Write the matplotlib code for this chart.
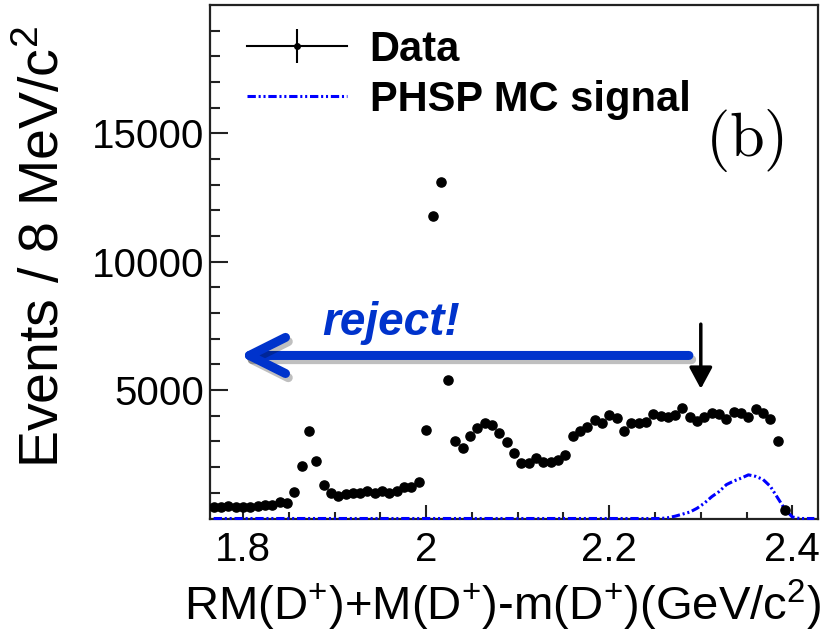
import numpy as np
import matplotlib
matplotlib.use("Agg")
import matplotlib.pyplot as plt
from matplotlib.lines import Line2D
from matplotlib.font_manager import FontProperties
import matplotlib.patheffects as pe

plt.rcParams['font.family'] = ['Liberation Sans', 'DejaVu Sans']
plt.rcParams['mathtext.fontset'] = 'custom'
plt.rcParams['mathtext.rm'] = 'Liberation Sans'
plt.rcParams['mathtext.it'] = 'Liberation Sans:italic'
plt.rcParams['mathtext.bf'] = 'Liberation Sans:bold'
plt.rcParams['lines.scale_dashes'] = False

# ---- data ----
bin_low = 1.764      # GeV/c^2, lower edge of first bin
bin_width = 0.008    # 8 MeV/c^2 bins

data_counts = [436, 460, 487, 436, 460, 460, 487, 526, 526, 654,
               592, 1044, 2044, 3407, 2239, 1305, 981, 876, 954, 981,
               1005, 1083, 1005, 1083, 1005, 1083, 1215, 1238, 1433, 3446,
               11780, 13115, 5393, 3018, 2734, 3213, 3512, 3731, 3641, 3341,
               2991, 2562, 2173, 2173, 2368, 2188, 2188, 2278, 2473, 3213,
               3419, 3551, 3836, 3720, 4045, 3902, 3419, 3707, 3707, 3769,
               4058, 3991, 3941, 4030, 4291, 3964, 3808, 3941, 4097, 4069,
               3863, 4159, 4097, 3964, 4252, 4120, 3863, 3030, 331]

mc_counts = [0] * 62 + [30, 90, 170, 250, 400, 600, 850, 1050, 1320, 1460,
                        1570, 1700, 1640, 1520, 1250, 800, 350, 60, 0, 0, 0]

cut_value = 2.3
xticks = [1.8, 2.0, 2.2, 2.4]
xtick_labels = ['1.8', '2', '2.2', '2.4']
yticks = [5000, 10000, 15000]
ytick_labels = ['5000', '10000', '15000']

n_data = len(data_counts)
n_mc = len(mc_counts)
x_data = bin_low + bin_width * (np.arange(n_data) + 0.5)
x_mc = bin_low + bin_width * (np.arange(n_mc) + 0.5)

W, H = 838, 635
fig = plt.figure(figsize=(W / 100, H / 100), dpi=100)
ax = fig.add_axes([210 / W, (H - 518.5) / H, 608 / W, 513.5 / H])

ax.set_xlim(bin_low, bin_low + bin_width * n_mc)
ax.set_ylim(0, 20000)

blue = '#0033cc'
mc_dashes = (6, 2, 1.5, 2, 1.5, 2)

ax.plot(x_mc, mc_counts, color='#0000ff', lw=2.2, dashes=mc_dashes, zorder=3, clip_on=False)
ax.plot(x_data, data_counts, 'o', color='black', markersize=6.6, zorder=4)

# ticks
ax.set_xticks(xticks)
ax.set_xticklabels(xtick_labels)
ax.set_xticks(np.arange(1.8, 2.43, 0.05), minor=True)
ax.set_yticks(yticks)
ax.set_yticklabels(ytick_labels)
ax.set_yticks(np.arange(1000, 20000, 1000), minor=True)
ax.tick_params(axis='both', which='both', direction='in', top=False, right=False,
               labelsize=29, width=1.5, color='#222222')
ax.tick_params(axis='x', which='major', length=10, pad=9)
ax.tick_params(axis='x', which='minor', length=5)
ax.tick_params(axis='y', which='major', length=13, pad=4)
ax.tick_params(axis='y', which='minor', length=7)
for s in ax.spines.values():
    s.set_linewidth(1.6)
    s.set_color('#222222')

# axis titles
fig.text(503 / W, 1 - 605 / H, r'RM(D$^{+}$)+M(D$^{+}$)-m(D$^{+}$)(GeV/c$^{2}$)',
         ha='center', va='center', fontsize=34)
fig.text(45 / W, 1 - 247 / H, r'Events / 8 MeV/c$^{2}$', rotation=90,
         ha='center', va='center', fontsize=40)

# legend
data_handle = (Line2D([], [], color='black', lw=1.5),
               Line2D([], [], color='black', marker='|', markersize=24, mew=1.5, ls='none'),
               Line2D([], [], color='black', marker='o', markersize=4, ls='none'))
mc_handle = Line2D([], [], color='#0000ff', lw=2.2, dashes=mc_dashes)
ax.legend(handles=[data_handle, mc_handle], labels=['Data', 'PHSP MC signal'],
          loc='upper left', bbox_to_anchor=(0.0604, 0.952), frameon=False,
          prop=FontProperties(family='Liberation Sans', weight='bold', size=30),
          handlelength=2.4, handletextpad=0.55, labelspacing=0.25,
          borderaxespad=0, borderpad=0)

# (b) label
fig.text(745 / W, 1 - 140 / H, r'$\mathrm{(b)}$', fontsize=45,
         math_fontfamily='cm', ha='center', va='center')

# cut arrow (black)
ax.annotate('', xy=(cut_value, 5050), xytext=(cut_value, 7570),
            arrowprops=dict(arrowstyle='-|>,head_length=0.65,head_width=0.35',
                            lw=2.5, color='black', mutation_scale=20,
                            shrinkA=0, shrinkB=0))

# reject arrow (blue with shadow)
arr = ax.annotate('', xy=(1.796, 6350), xytext=(2.287, 6350),
                  arrowprops=dict(arrowstyle='->,head_length=1.3,head_width=0.65',
                                  lw=6.5, color=blue, mutation_scale=20,
                                  shrinkA=0, shrinkB=0, capstyle='round',
                                  joinstyle='round'))
arr.arrow_patch.set_path_effects([pe.SimpleLineShadow(offset=(2, -3), shadow_color='black', alpha=0.25),
                                  pe.Normal()])
ax.text(1.962, 7600, 'reject!', color=blue, fontsize=33, fontweight='bold',
        fontstyle='italic', ha='center', va='center')

fig.savefig('out.png', dpi=100)
